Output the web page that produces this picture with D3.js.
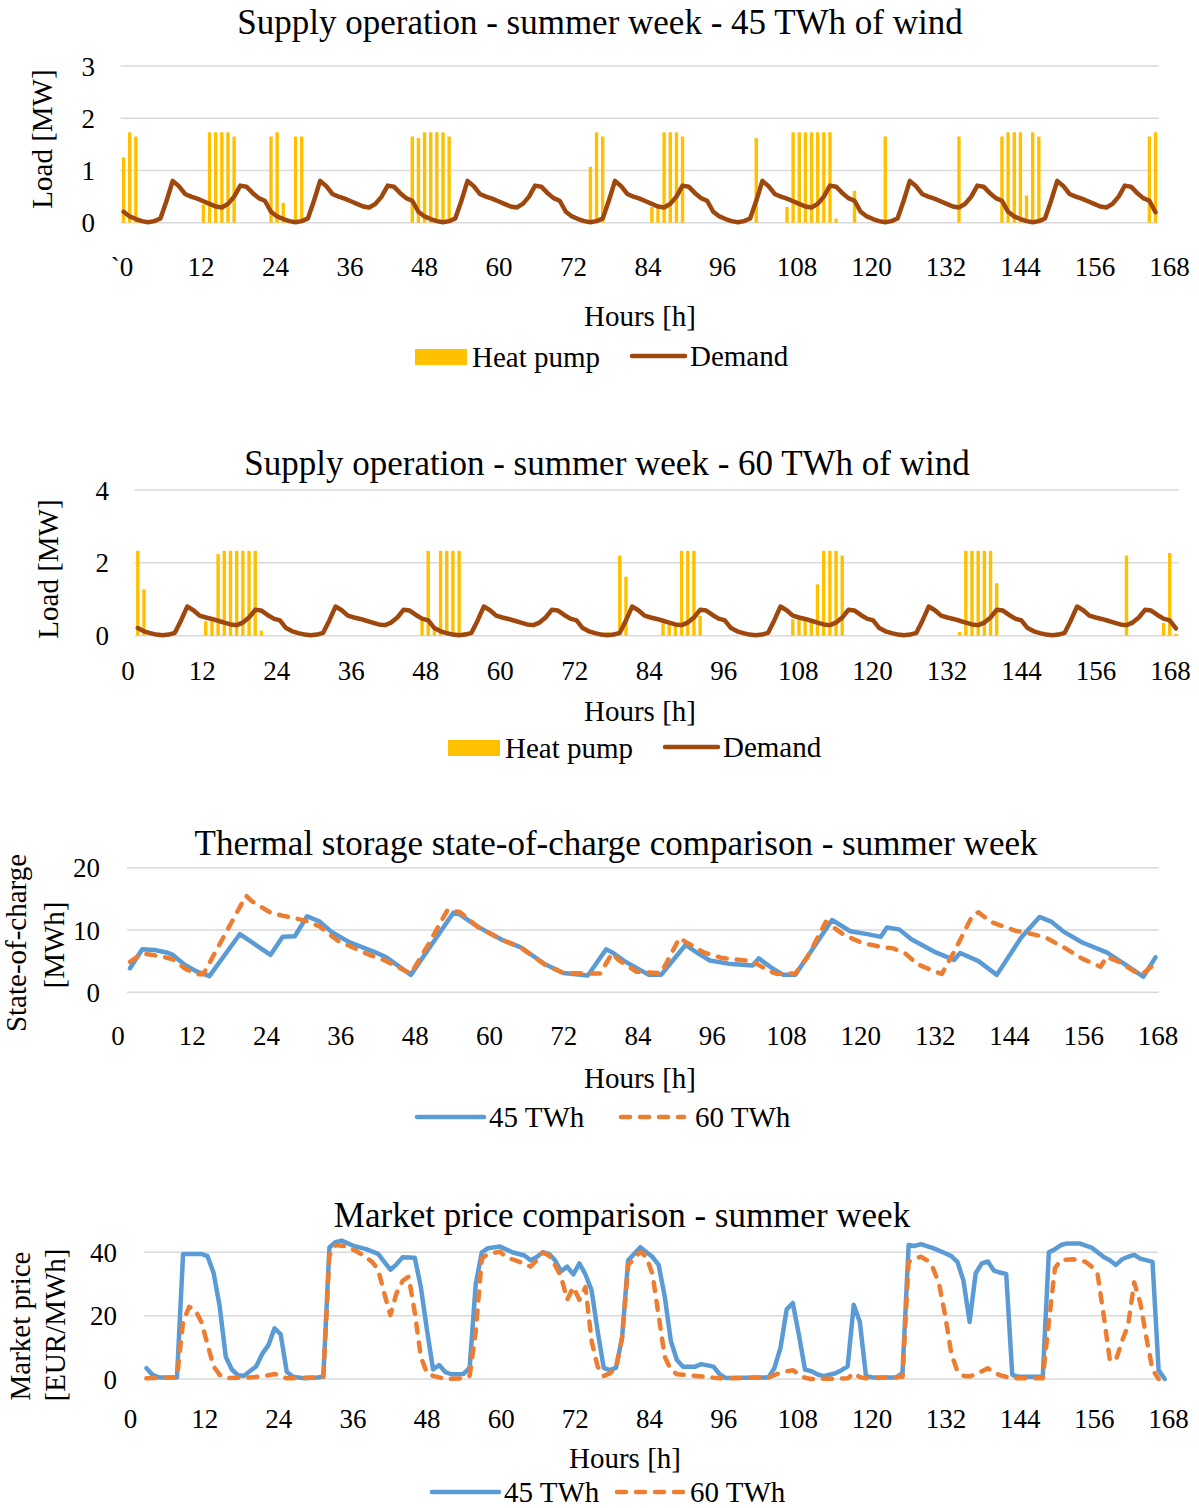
<!DOCTYPE html>
<html><head><meta charset="utf-8">
<script src="https://cdn.jsdelivr.net/npm/d3@7"></script>
<style>
html,body{margin:0;padding:0;background:#fff;}
text{font-family:"Liberation Serif","Times New Roman",serif;fill:#000;}
</style></head>
<body><svg id="chart" width="1199" height="1508"></svg>
<script>
// ---------- DATA ----------
const xTickValues = [0,12,24,36,48,60,72,84,96,108,120,132,144,156,168];
const xTickLabelsP1 = ["`0","12","24","36","48","60","72","84","96","108","120","132","144","156","168"];
const xTickLabels = ["0","12","24","36","48","60","72","84","96","108","120","132","144","156","168"];

// Demand [MW], hours 0..168
const demand = [
 0.21,0.12,0.07,0.03,0.01,0.03,0.08,0.42,0.80,0.70,0.55,0.50,0.46,0.41,0.36,0.31,0.29,0.36,0.50,0.71,0.69,0.57,0.47,0.42,
 0.21,0.12,0.07,0.03,0.01,0.03,0.08,0.42,0.80,0.70,0.55,0.50,0.46,0.41,0.36,0.31,0.29,0.36,0.50,0.71,0.69,0.57,0.47,0.42,
 0.21,0.12,0.07,0.03,0.01,0.03,0.08,0.42,0.80,0.70,0.55,0.50,0.46,0.41,0.36,0.31,0.29,0.36,0.50,0.71,0.69,0.57,0.47,0.42,
 0.21,0.12,0.07,0.03,0.01,0.03,0.08,0.42,0.80,0.70,0.55,0.50,0.46,0.41,0.36,0.31,0.29,0.36,0.50,0.71,0.69,0.57,0.47,0.42,
 0.21,0.12,0.07,0.03,0.01,0.03,0.08,0.42,0.80,0.70,0.55,0.50,0.46,0.41,0.36,0.31,0.29,0.36,0.50,0.71,0.69,0.57,0.47,0.42,
 0.21,0.12,0.07,0.03,0.01,0.03,0.08,0.42,0.80,0.70,0.55,0.50,0.46,0.41,0.36,0.31,0.29,0.36,0.50,0.71,0.69,0.57,0.47,0.42,
 0.21,0.12,0.07,0.03,0.01,0.03,0.08,0.42,0.80,0.70,0.55,0.50,0.46,0.41,0.36,0.31,0.29,0.36,0.50,0.71,0.69,0.57,0.47,0.42,
 0.20];

// Heat pump load [MW], 45 TWh case (hour, value); other hours are 0
const hp45Hours  = [0,1,2,13,14,15,16,17,18,24,25,26,28,29,47,48,49,50,51,52,53,76,77,78,86,87,88,89,90,91,103,108,109,110,111,112,113,114,115,116,119,124,136,143,144,145,146,147,148,149,167,168];
const hp45Values = [1.25,1.73,1.65,0.35,1.73,1.73,1.73,1.73,1.65,1.65,1.73,0.38,1.65,1.65,1.65,1.62,1.73,1.73,1.73,1.73,1.65,1.07,1.73,1.65,0.30,0.30,1.73,1.73,1.73,1.65,1.62,0.30,1.73,1.73,1.73,1.73,1.73,1.73,1.73,0.08,0.61,1.65,1.65,1.65,1.73,1.73,1.73,0.52,1.73,1.65,1.65,1.73];

// Heat pump load [MW], 60 TWh case
const hp60Hours  = [0,1,11,12,13,14,15,16,17,18,19,20,46,47,48,49,50,51,52,53,76,78,79,85,86,87,88,89,90,91,106,107,108,109,110,111,112,113,114,133,134,135,136,137,138,139,160,166,167,168];
const hp60Values = [2.33,1.27,0.40,0.40,2.24,2.33,2.33,2.33,2.33,2.33,2.33,0.14,0.43,2.33,0.20,2.33,2.33,2.33,2.33,0.10,0.10,2.20,1.62,0.34,0.34,0.34,2.33,2.33,2.33,0.54,0.45,0.45,0.45,0.45,1.41,2.33,2.33,2.33,2.20,0.10,2.33,2.33,2.33,2.33,2.33,1.44,2.20,0.35,2.27,0.05];

// Thermal storage state-of-charge [MWh]
const soc45Hours = [0,2,4,6,7,9,11,13,18,23,25,27,29,31,33,36,40,42,46,53,54,57,61,64,68,71,75,78,79,81,85,87,91,93,95,98,102,103,105,107,109,115,118,121,123,124,126,128,132,135,136,139,142,146,149,151,153,156,160,163,166,168];
const soc45      = [3.85,6.9,6.8,6.4,6.0,4.4,3.3,2.6,9.35,6.0,8.9,9.0,12.2,11.4,9.7,8.0,6.5,5.6,2.8,12.8,12.5,10.5,8.4,7.2,4.5,3.1,2.7,6.9,6.4,5.0,2.8,2.8,7.6,6.3,5.1,4.6,4.3,5.45,4.0,2.8,2.8,11.6,9.8,9.3,8.9,10.4,10.1,8.5,6.4,5.2,6.3,5.0,2.8,8.8,12.1,11.3,9.7,8.0,6.4,4.5,2.5,5.6];
const soc60Hours = [0,2,5,7,9,11,12,19,20,23,25,27,29,31,34,39,42,46,47,49,52,54,57,61,64,68,71,77,79,80,83,87,90,91,94,97,101,102,105,106,109,111,114,117,120,123,125,127,129,132,133,135,138,139,141,145,148,150,153,156,159,160,162,165,166,168];
const soc60      = [4.9,6.25,5.8,5.3,3.8,2.9,2.9,15.5,14.6,12.8,12.3,11.9,11.4,10.6,8.3,6.1,5.0,3.0,4.6,7.9,13.2,12.9,10.5,8.4,7.2,4.4,3.1,3.0,6.3,5.2,3.3,3.05,8.7,8.1,6.4,5.5,5.1,4.9,3.3,2.95,3.05,5.7,11.3,9.2,7.9,7.3,7.05,6.25,4.5,3.3,2.95,6.5,12.3,12.85,11.3,9.9,9.3,8.8,7.2,5.4,4.1,5.7,4.9,3.05,3.05,4.65];

// Market price [EUR/MWh]
const price45Hours = [1,2,3,6,7,10,11,12,13,14,15,16,17,18,19,20,21,22,23,24,25,27,29,30,31,32,33,35,37,39,40,41,42,43,45,46,47,48,49,50,51,53,54,55,56,57,59,61,63,64,65,66,67,68,69,70,71,72,73,74,75,76,77,78,79,80,82,84,85,86,87,88,89,91,92,94,95,96,103,104,105,106,107,108,109,110,111,112,114,115,116,117,118,119,120,124,125,126,127,128,130,132,133,134,135,136,137,138,139,140,141,142,143,144,148,149,150,151,152,154,156,158,159,160,161,162,163,164,166,167,168];
const price45      = [3.4,1.3,0.5,0.5,39.5,39.5,38.8,33.5,23,7,3,1.2,1,2.5,4,8,10.7,16,14.2,2.3,0.7,0.2,0.5,0.8,41.5,43.2,43.7,42,41,39.5,37,34.5,36.2,38.4,38.3,29,15.5,3,4.4,2.2,1.5,1.6,3.5,30,40,41.3,41.8,40,39,37.5,38.5,40,39.5,37.5,34,35.5,33,36.5,33,28,15,3.5,2.8,3.5,13,37.5,41.6,38.5,36,26,12,6,3.9,3.9,4.7,3.9,1.5,0.3,0.5,3.5,10,22,24,14,3,2.5,1.5,0.9,1.8,2.8,4,23.4,18,1,0.5,0.5,2,42.3,42,42.6,41.3,39.7,38.8,37,31,18,33.4,36.5,37.1,34.2,33.6,33.2,1.3,0.7,0.7,40,41,42.3,42.8,42.8,41.5,38.5,37.5,36,37.8,38.6,39.2,38,37,2.8,0];
const price60Hours = [1,6,7,8,9,10,11,12,13,14,18,20,22,23,24,29,30,31,32,34,36,38,39,40,41,42,43,44,45,46,47,48,49,50,53,54,55,56,57,59,60,62,64,65,66,67,68,69,70,71,72,73,74,75,76,77,78,79,80,82,83,84,85,86,87,88,90,92,95,103,105,107,108,109,110,116,117,118,119,125,126,127,128,129,130,131,132,133,134,135,136,137,139,140,141,143,148,149,150,151,153,155,156,157,158,159,160,161,162,163,164,165,166,167];
const price60      = [0.2,0.5,18,22.8,21.8,18,11,4,1.3,0.3,0.5,0.8,1.6,1,0.2,0.5,0.7,39,42.3,41.8,39.7,37,34.5,27,20.2,27,31,32.3,21,7,1.8,1,0.5,0,0.2,1,15,38,39.5,40.2,38.5,37.1,35.5,37.5,39.9,39,36,32.3,25,29,25,29,12,3.9,1,1.8,3.4,13,36,40.2,38.5,33,20,7,3,1.5,1.2,0.8,0.2,0.5,2,2.8,1.5,0.4,0,0.2,1.8,0.6,0.2,0.7,37,38,38.6,37.5,35,30,20,8,2.5,1,0.8,1.5,3.4,2,1.2,0.2,0.2,18,35,37.6,37.8,37,35.5,33,20,6,6,12,17,30.5,24,13,3,0];

// ---------- STYLE / LAYOUT ----------
const C = {hp:"#FFC000", demand:"#9E480E", blue:"#5B9BD5", orange:"#ED7D31", grid:"#D9D9D9"};
const FONT_TITLE = 35, FONT_TICK = 27, FONT_AXIS = 29, FONT_LEG = 29;
const svg = d3.select("#chart");
svg.append("rect").attr("width",1199).attr("height",1508).attr("fill","#fff");

function frame(p){
  const g = svg.append("g");
  g.selectAll("line.grid").data(p.yTicks).join("line")
    .attr("x1",p.gx[0]).attr("x2",p.gx[1])
    .attr("y1",d=>p.y(d)).attr("y2",d=>p.y(d))
    .attr("stroke",C.grid).attr("stroke-width",1.5);
  g.selectAll("text.yt").data(p.yTicks).join("text")
    .attr("x",p.yLabX).attr("y",d=>p.y(d)+9.5)
    .attr("text-anchor","end").attr("font-size",FONT_TICK).text(d=>d);
  const ax = d3.axisBottom(p.xLab).tickValues(xTickValues).tickSize(0)
    .tickFormat((d,i)=>p.xLabels[i]);
  const axg = g.append("g").attr("transform",`translate(0,${p.xLabY})`).call(ax);
  axg.select(".domain").remove();
  axg.selectAll("text").attr("font-size",FONT_TICK).attr("font-family","Liberation Serif, Times New Roman, serif")
    .attr("fill","#000").attr("dy",0).attr("y",0);
  if(p.xLabels[0].startsWith("`")) axg.selectAll("text").filter((d,i)=>i===0).attr("dx","-0.17em");
  g.append("text").attr("x",p.title[0]).attr("y",p.title[1]).attr("text-anchor","middle")
    .attr("font-size",FONT_TITLE).text(p.title[2]);
  g.append("text").attr("x",p.xTitle[0]).attr("y",p.xTitle[1]).attr("text-anchor","middle")
    .attr("font-size",FONT_AXIS).text("Hours [h]");
  p.yTitle.forEach(t=>{
    g.append("text").attr("transform",`translate(${t[0]},${t[1]}) rotate(-90)`)
      .attr("text-anchor","middle").attr("font-size",FONT_AXIS).text(t[2]);
  });
  return g;
}

function legendItem(g, kind, x0, x1, y, color, label, dashed, gap){
  if(kind==="rect"){
    g.append("rect").attr("x",x0).attr("y",y-8).attr("width",x1-x0).attr("height",16).attr("fill",color);
  } else {
    const l = g.append("line").attr("x1",x0).attr("x2",x1).attr("y1",y).attr("y2",y)
      .attr("stroke",color).attr("stroke-width",4.5).attr("stroke-linecap","round");
    if(dashed) l.attr("stroke-dasharray","9,10");
  }
  g.append("text").attr("x",x1+(gap||5)).attr("y",y+10).attr("font-size",FONT_LEG).text(label);
}

// ---------- PANEL 1 ----------
(function(){
  const p = {
    gx:[120.5,1158.6], y:d3.scaleLinear().domain([0,3]).range([222.7,66]), yTicks:[0,1,2,3],
    yLabX:95, xLab:d3.scaleLinear().domain([0,168]).range([126,1169]), xLabels:xTickLabelsP1, xLabY:276,
    title:[600,34,"Supply operation - summer week - 45 TWh of wind"], xTitle:[640,326], yTitle:[[52,139,"Load [MW]"]]
  };
  const g = frame(p);
  const xb = d3.scaleBand().domain(d3.range(169)).range(p.gx);
  const bw = 3.4;
  g.selectAll("rect.hp").data(hp45Hours.map((h,i)=>[h,hp45Values[i]])).join("rect")
    .attr("x",d=>xb(d[0])+xb.bandwidth()/2-bw/2).attr("width",bw)
    .attr("y",d=>p.y(d[1])).attr("height",d=>p.y(0)-p.y(d[1])).attr("fill",C.hp);
  g.append("path").datum(demand).attr("fill","none").attr("stroke",C.demand).attr("stroke-width",4.5)
    .attr("stroke-linejoin","round").attr("stroke-linecap","round")
    .attr("d",d3.line().x((d,i)=>xb(i)+xb.bandwidth()/2).y(d=>p.y(d)));
  legendItem(g,"rect",415,467,357,C.hp,"Heat pump");
  legendItem(g,"line",632,685,356,C.demand,"Demand");
})();

// ---------- PANEL 2 ----------
(function(){
  const p = {
    gx:[134.7,1179], y:d3.scaleLinear().domain([0,4]).range([635.7,490]), yTicks:[0,2,4],
    yLabX:109, xLab:d3.scaleLinear().domain([0,168]).range([127.4,1170]), xLabels:xTickLabels, xLabY:680,
    title:[607,475,"Supply operation - summer week - 60 TWh of wind"], xTitle:[640,721], yTitle:[[58,569,"Load [MW]"]]
  };
  const g = frame(p);
  const xb = d3.scaleBand().domain(d3.range(169)).range(p.gx);
  const bw = 3.4;
  g.selectAll("rect.hp").data(hp60Hours.map((h,i)=>[h,hp60Values[i]])).join("rect")
    .attr("x",d=>xb(d[0])+xb.bandwidth()/2-bw/2).attr("width",bw)
    .attr("y",d=>p.y(d[1])).attr("height",d=>p.y(0)-p.y(d[1])).attr("fill",C.hp);
  g.append("path").datum(demand).attr("fill","none").attr("stroke",C.demand).attr("stroke-width",4.5)
    .attr("stroke-linejoin","round").attr("stroke-linecap","round")
    .attr("d",d3.line().x((d,i)=>xb(i)+xb.bandwidth()/2).y(d=>p.y(d)));
  legendItem(g,"rect",448,500,748,C.hp,"Heat pump");
  legendItem(g,"line",665,718,747,C.demand,"Demand");
})();

// ---------- PANEL 3 ----------
(function(){
  const p = {
    gx:[127,1158.6], y:d3.scaleLinear().domain([0,20]).range([992.3,867.7]), yTicks:[0,10,20],
    yLabX:100, xLab:d3.scaleLinear().domain([0,168]).range([117.5,1157.5]), xLabels:xTickLabels, xLabY:1045,
    title:[616,855,"Thermal storage state-of-charge comparison - summer week"], xTitle:[640,1088],
    yTitle:[[26,943,"State-of-charge"],[64,945,"[MWh]"]]
  };
  const g = frame(p);
  const x = d3.scaleLinear().domain([0,168]).range([130.05,1155.5]);
  const line = d3.line().x(d=>x(d[0])).y(d=>p.y(d[1]));
  g.append("path").datum(soc45Hours.map((h,i)=>[h,soc45[i]])).attr("fill","none").attr("stroke",C.blue)
    .attr("stroke-width",4.5).attr("stroke-linejoin","round").attr("stroke-linecap","round").attr("d",line);
  g.append("path").datum(soc60Hours.map((h,i)=>[h,soc60[i]])).attr("fill","none").attr("stroke",C.orange)
    .attr("stroke-width",4.5).attr("stroke-linejoin","round").attr("stroke-linecap","round")
    .attr("stroke-dasharray","9,10").attr("d",line);
  legendItem(g,"line",417,484,1117,C.blue,"45 TWh");
  legendItem(g,"line",621,684,1117,C.orange,"60 TWh",true,11);
})();

// ---------- PANEL 4 ----------
(function(){
  const p = {
    gx:[144,1158], y:d3.scaleLinear().domain([0,40]).range([1379,1252.3]), yTicks:[0,20,40],
    yLabX:117, xLab:d3.scaleLinear().domain([0,168]).range([130,1168]), xLabels:xTickLabels, xLabY:1428,
    title:[622,1227,"Market price comparison - summer week"], xTitle:[625,1468],
    yTitle:[[30,1326,"Market price"],[65,1325,"[EUR/MWh]"]]
  };
  const g = frame(p);
  const x = d3.scaleLinear().domain([0,168]).range([140.4,1164.7]);
  const line = d3.line().x(d=>x(d[0])).y(d=>p.y(d[1]));
  g.append("path").datum(price45Hours.map((h,i)=>[h,price45[i]])).attr("fill","none").attr("stroke",C.blue)
    .attr("stroke-width",4.5).attr("stroke-linejoin","round").attr("stroke-linecap","round").attr("d",line);
  g.append("path").datum(price60Hours.map((h,i)=>[h,price60[i]])).attr("fill","none").attr("stroke",C.orange)
    .attr("stroke-width",4.5).attr("stroke-linejoin","round").attr("stroke-linecap","round")
    .attr("stroke-dasharray","9,10").attr("d",line);
  legendItem(g,"line",432,499,1492,C.blue,"45 TWh");
  legendItem(g,"line",617,683,1492,C.orange,"60 TWh",true,7);
})();
</script></body></html>
